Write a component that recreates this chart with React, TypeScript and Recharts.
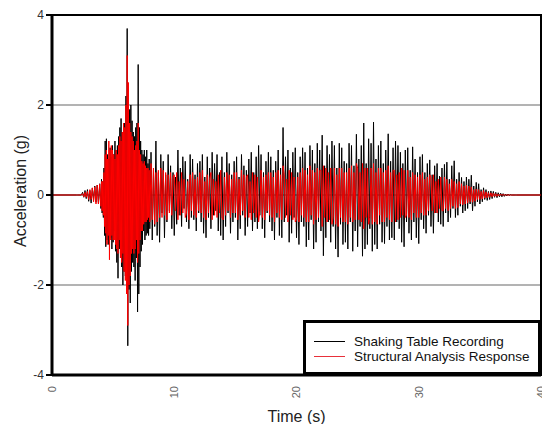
import React from "react";
import {
  LineChart,
  Line,
  XAxis,
  YAxis,
  CartesianGrid,
  ReferenceArea,
  Label,
} from "recharts";

const X_TICKS = [0, 10, 20, 30, 40];
const Y_TICKS = [-4, -2, 0, 2, 4];

// sampling of the digitised records: onset, strong motion (finer), coda
const ONSET = { start: 2.0, step: 0.1 };
const STRONG = { start: 4.0, step: 0.05 };
const CODA = { start: 8.0, step: 0.1 };

// Shaking table recording (g)
const shakeOnset = [
  0, 0, 0, 0, 0, 0.06, -0.05, 0.1, -0.08, 0.12,
  -0.14, 0.1, -0.18, 0.15, -0.1, 0.2, -0.16, 0.22, -0.2, 0.25,
];
const shakeStrong = [
  -0.3, 0.35, -0.4, 0.3, -0.5, 0.6, -0.9, 1.2, -1.15, 1.25, -1.0, 0.9, -1.1, 0.8, -1.0, 1.05, -0.95, 0.85, -1.2, 1.1,
  -1.05, 0.9, -0.8, 1.2, -1.25, 1.0, -1.5, 1.1, -1.85, 1.3, -1.2, 1.5, -1.3, 1.7, -1.6, 1.4, -2.0, 1.55, -1.7, 1.6,
  -1.8, 2.2, -2.0, 3.7, -3.35, 2.4, -2.1, 1.9, -2.4, 2.0, -1.7, 1.65, -1.5, 1.4, -1.6, 1.3, -1.9, 1.5, -1.4, 1.6,
  -2.6, 2.9, -2.2, 1.5, -1.6, 1.2, -1.25, 1.0, -1.1, 0.9, -0.8, 1.0, -1.0, 0.85, -0.9, 1.0, -0.85, 0.7, -0.9, 0.8,
];
const shakeCoda = [
  -0.75, 0.95, -1.0, 0.55, -0.7, 1.2, -0.9, 0.5, -1.05, 0.9,
  -0.4, 0.75, -0.95, 0.45, -0.6, 0.9, -0.35, 0.65, -0.75, 0.5,
  -0.9, 0.4, -0.65, 1.0, -0.45, 0.6, -0.7, 0.85, -0.3, 0.75,
  -0.6, 0.35, -0.75, 0.9, -0.5, 0.8, -0.55, 0.45, -0.8, 0.7,
  -0.4, 0.75, -0.6, 0.9, -0.85, 0.4, -0.95, 0.85, -0.5, 0.6,
  -0.75, 0.95, -0.45, 0.7, -0.35, 0.9, -0.8, 0.5, -0.9, 0.85,
  -1.0, 0.5, -0.7, 0.95, -0.4, 0.7, -0.85, 0.45, -0.6, 0.75,
  -0.5, 0.85, -1.0, 0.4, -0.75, 0.9, -0.45, 0.65, -0.9, 0.55,
  -0.7, 0.8, -0.4, 0.95, -0.8, 0.5, -0.6, 0.85, -0.75, 1.1,
  -0.45, 0.9, -0.75, 0.5, -0.95, 0.75, -0.4, 0.95, -0.6, 0.85,
  -0.8, 0.55, -1.0, 0.75, -0.5, 1.0, -0.9, 0.6, -0.95, 1.5,
  -0.6, 0.85, -0.45, 1.0, -1.05, 0.6, -0.85, 0.95, -0.5, 1.05,
  -0.95, 0.5, -1.1, 0.85, -0.6, 1.05, -0.7, 0.95, -1.15, 0.6,
  -1.0, 1.1, -0.55, 1.0, -1.2, 0.7, -1.05, 1.15, -0.6, 1.0,
  -0.8, 1.33, -1.35, 0.65, -0.95, 1.1, -0.6, 0.9, -1.05, 1.2,
  -0.7, 1.1, -1.2, 0.6, -1.38, 1.15, -0.65, 1.05, -1.1, 0.75,
  -1.05, 0.7, -1.2, 1.15, -0.6, 1.1, -1.25, 0.65, -0.8, 1.35,
  -1.15, 0.8, -0.7, 1.1, -1.36, 1.6, -1.2, 0.7, -1.1, 1.25,
  -0.75, 1.15, -1.25, 1.62, -1.1, 0.8, -1.2, 1.1, -0.65, 1.2,
  -1.05, 0.7, -1.08, 1.0, -0.7, 1.36, -1.0, 0.75, -0.95, 1.05,
  -1.0, 1.2, -0.6, 1.1, -0.75, 0.95, -1.05, 0.7, -1.15, 1.0,
  -0.6, 1.05, -0.85, 0.55, -1.0, 1.07, -0.6, 0.8, -0.95, 0.5,
  -1.08, 0.85, -0.55, 0.9, -0.75, 0.5, -0.85, 0.7, -0.45, 0.78,
  -0.7, 0.45, -0.85, 0.65, -0.4, 0.7, -0.6, 0.42, -0.65, 0.6,
  -0.7, 0.68, -0.4, 0.73, -0.6, 0.35, -0.5, 0.65, -0.3, 0.76,
  -0.5, 0.35, -0.45, 0.5, -0.25, 0.39, -0.4, 0.3, -0.35, 0.4,
  -0.3, 0.35, -0.2, 0.44, -0.35, 0.2, -0.25, 0.28, -0.15, 0.25,
  -0.2, 0.12, -0.15, 0.16, -0.1, 0.12, -0.12, 0.08, -0.1, 0.09,
  -0.08, 0.08, -0.05, 0.06, -0.06, 0.05, -0.04, 0.04, -0.04, 0.03,
  -0.03, 0.02, -0.02, 0.02, -0.01, 0.01, 0, 0, 0, 0,
  0,
];

// Structural analysis response (g)
const simOnset = [
  0, 0, 0, 0, 0, 0.03, -0.04, 0.06, -0.05, 0.08,
  -0.1, 0.12, -0.1, 0.16, -0.15, 0.18, -0.2, 0.22, -0.2, 0.24,
];
const simStrong = [
  -0.25, 0.3, -0.35, 0.3, -0.45, 0.5, -0.7, 0.9, -0.85, 1.0, -1.1, 0.8, -0.9, 1.2, -1.44, 1.0, -1.0, 1.1, -0.9, 1.0,
  -1.0, 0.9, -1.0, 0.8, -1.1, 1.0, -1.2, 0.9, -1.3, 1.1, -1.0, 1.3, -1.4, 1.2, -1.5, 1.4, -1.3, 1.6, -1.7, 1.5,
  -1.9, 2.0, -2.2, 3.1, -2.9, 2.5, -2.0, 1.6, -1.8, 1.4, -1.3, 1.3, -1.2, 1.2, -1.3, 1.0, -1.2, 1.1, -1.0, 1.2,
  -1.5, 1.6, -1.3, 1.0, -1.0, 0.9, -0.8, 0.75, -0.8, 0.7, -0.65, 0.75, -0.6, 0.65, -0.6, 0.6, -0.55, 0.6, -0.5, 0.55,
];
const simCoda = [
  -0.6, 0.7, -0.55, 0.6, -0.65, 0.5, -0.6, 0.55, -0.5, 0.6,
  -0.5, 0.55, -0.45, 0.5, -0.55, 0.45, -0.4, 0.5, -0.45, 0.4,
  0.45, -0.35, 0.5, -0.55, 0.3, -0.45, 0.5, -0.4, 0.35, -0.5,
  -0.4, 0.3, -0.55, 0.45, -0.35, 0.5, -0.45, 0.35, -0.5, 0.4,
  -0.35, 0.5, -0.4, 0.55, -0.5, 0.3, -0.55, 0.45, -0.4, 0.35,
  0.5, -0.55, 0.35, -0.45, 0.3, -0.5, 0.45, -0.4, 0.55, -0.5,
  -0.55, 0.4, -0.45, 0.5, -0.35, 0.45, -0.5, 0.35, -0.4, 0.5,
  -0.4, 0.5, -0.55, 0.35, -0.45, 0.55, -0.35, 0.45, -0.5, 0.4,
  0.45, -0.5, 0.3, -0.55, 0.5, -0.4, 0.45, -0.5, 0.4, -0.6,
  -0.35, 0.55, -0.5, 0.4, -0.55, 0.45, -0.35, 0.5, -0.45, 0.5,
  -0.5, 0.4, -0.6, 0.5, -0.4, 0.55, -0.5, 0.45, -0.55, 0.65,
  0.45, -0.5, 0.35, -0.6, 0.55, -0.45, 0.5, -0.55, 0.4, -0.6,
  -0.55, 0.4, -0.6, 0.5, -0.45, 0.6, -0.5, 0.55, -0.6, 0.45,
  -0.6, 0.65, -0.45, 0.55, -0.65, 0.5, -0.55, 0.6, -0.5, 0.55,
  0.55, -0.7, 0.65, -0.5, 0.6, -0.6, 0.5, -0.55, 0.6, -0.65,
  -0.5, 0.6, -0.65, 0.45, -0.7, 0.6, -0.5, 0.6, -0.6, 0.5,
  -0.6, 0.5, -0.65, 0.6, -0.5, 0.65, -0.6, 0.5, -0.55, 0.7,
  0.6, -0.55, 0.5, -0.6, 0.7, -0.75, 0.6, -0.5, 0.6, -0.65,
  -0.5, 0.6, -0.65, 0.7, -0.6, 0.5, -0.65, 0.6, -0.45, 0.6,
  -0.6, 0.5, -0.6, 0.55, -0.5, 0.65, -0.55, 0.5, -0.6, 0.55,
  0.55, -0.6, 0.45, -0.55, 0.5, -0.5, 0.6, -0.45, 0.55, -0.5,
  -0.45, 0.55, -0.5, 0.4, -0.55, 0.5, -0.4, 0.45, -0.5, 0.4,
  -0.5, 0.45, -0.4, 0.5, -0.45, 0.35, -0.45, 0.4, -0.35, 0.45,
  0.4, -0.35, 0.45, -0.4, 0.3, -0.4, 0.35, -0.3, 0.4, -0.35,
  -0.35, 0.4, -0.3, 0.35, -0.35, 0.25, -0.3, 0.35, -0.25, 0.3,
  -0.3, 0.25, -0.28, 0.3, -0.2, 0.25, -0.22, 0.2, -0.2, 0.22,
  -0.18, 0.2, -0.15, 0.18, -0.16, 0.12, -0.14, 0.13, -0.1, 0.12,
  -0.1, 0.08, -0.09, 0.1, -0.07, 0.07, -0.06, 0.05, -0.05, 0.05,
  -0.04, 0.04, -0.03, 0.03, -0.03, 0.02, -0.02, 0.02, -0.01, 0.01,
  0, 0, 0, 0, 0, 0, 0, 0, 0, 0,
  0,
];

function segmentRows(
  seg: { start: number; step: number },
  shake: number[],
  sim: number[],
) {
  return shake.map((v, i) => ({
    t: Number((seg.start + i * seg.step).toFixed(3)),
    shake: v,
    sim: sim[i] ?? 0,
  }));
}

const chartData = [
  { t: 0, shake: 0, sim: 0 },
  ...segmentRows(ONSET, shakeOnset, simOnset),
  ...segmentRows(STRONG, shakeStrong, simStrong),
  ...segmentRows(CODA, shakeCoda, simCoda),
  { t: 40, shake: 0, sim: 0 },
];

const FONT = "Arial, 'Liberation Sans', sans-serif";

function RotatedTick(props: any) {
  const { x, y, payload } = props;
  const ty = y + 3;
  return (
    <text
      x={x}
      y={ty}
      dy="0.35em"
      transform={`rotate(-90 ${x} ${ty})`}
      textAnchor="end"
      fill="#666"
      fontSize={11}
      fontFamily={FONT}
    >
      {payload.value}
    </text>
  );
}

export default function App() {
  return (
    <div
      style={{
        position: "absolute",
        left: 0,
        top: 0,
        width: 542,
        height: 424,
        background: "#fff",
        fontFamily: FONT,
      }}
    >
      <LineChart
        width={542}
        height={424}
        data={chartData}
        margin={{ top: 15, right: 1, left: 0, bottom: 0 }}
      >
        <CartesianGrid vertical={false} stroke="#9a9a9a" strokeWidth={1.5} />
        <XAxis
          dataKey="t"
          type="number"
          domain={[0, 40]}
          ticks={X_TICKS}
          height={49}
          tickLine={false}
          axisLine={{ stroke: "#000", strokeWidth: 3 }}
          tick={<RotatedTick />}
          interval={0}
        >
          <Label
            value="Time (s)"
            position="insideBottom"
            offset={2}
            style={{ fontSize: 16, fill: "#222", fontFamily: FONT }}
          />
        </XAxis>
        <YAxis
          type="number"
          domain={[-4, 4]}
          ticks={Y_TICKS}
          width={52}
          interval={0}
          tickSize={6}
          tickLine={{ stroke: "#000", strokeWidth: 2 }}
          axisLine={{ stroke: "#000", strokeWidth: 3 }}
          tick={{ fill: "#333", fontSize: 12, fontFamily: FONT }}
          tickFormatter={(v: number) => String(v)}
        >
          <Label
            content={() => (
              <text
                x={20}
                y={191}
                transform="rotate(-90 20 191)"
                textAnchor="middle"
                dominantBaseline="central"
                fontSize={16}
                fill="#222"
                fontFamily={FONT}
              >
                Acceleration (g)
              </text>
            )}
          />
        </YAxis>
        <ReferenceArea
          x1={0}
          x2={40}
          y1={-4}
          y2={4}
          fill="none"
          stroke="#000"
          strokeWidth={2}
          ifOverflow="visible"
        />
        <Line
          type="linear"
          dataKey="shake"
          stroke="#000"
          strokeWidth={1}
          dot={false}
          isAnimationActive={false}
        />
        <Line
          type="linear"
          dataKey="sim"
          stroke="#ff0000"
          strokeWidth={1}
          dot={false}
          isAnimationActive={false}
        />
      </LineChart>
      <div
        style={{
          position: "absolute",
          left: 303,
          top: 320,
          width: 238,
          height: 55,
          boxSizing: "border-box",
          border: "3px solid #000",
          background: "#fff",
          fontSize: 13.5,
          color: "#111",
          padding: "11px 0 0 8px",
          lineHeight: "15px",
        }}
      >
        {[
          { name: "Shaking Table Recording", color: "#000" },
          { name: "Structural Analysis Response", color: "#e8303a" },
        ].map((s) => (
          <div
            key={s.name}
            style={{ display: "flex", alignItems: "center", height: 15, whiteSpace: "nowrap" }}
          >
            <span
              style={{
                display: "inline-block",
                width: 31,
                height: 1,
                background: s.color,
                marginRight: 9,
              }}
            />
            <span>{s.name}</span>
          </div>
        ))}
      </div>
    </div>
  );
}
